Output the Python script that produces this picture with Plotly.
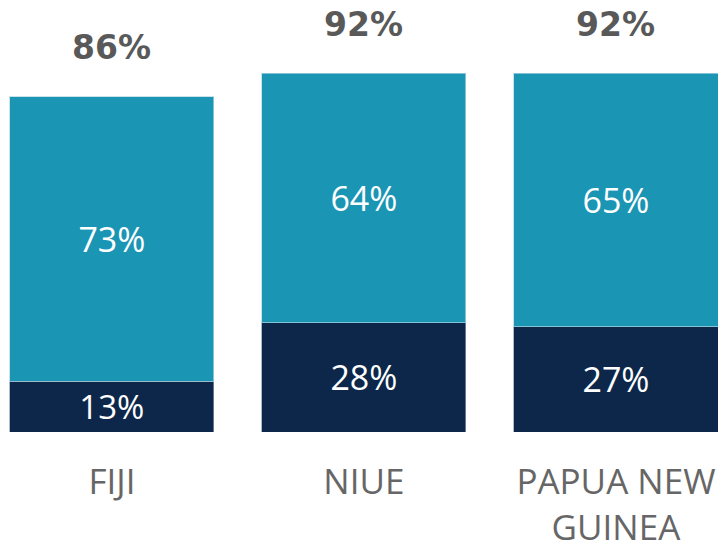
import plotly.graph_objects as go

categories = ["FIJI", "NIUE", "PAPUA NEW<br>GUINEA"]
bottom_vals = [13, 28, 27]
top_vals = [73, 64, 65]
total_labels = ["86%", "92%", "92%"]

NAVY = "#0c2749"
TEAL = "#1a95b4"

fig = go.Figure()
fig.add_trace(go.Bar(
    x=categories, y=bottom_vals, marker=dict(color=NAVY, line=dict(color="rgba(140,155,180,0.7)", width=1)),
    text=[f"{v}%" for v in bottom_vals], textposition="inside", insidetextanchor="middle",
    textfont=dict(color="white", size=34, family="Open Sans"), textangle=0, showlegend=False,
))
fig.add_trace(go.Bar(
    x=categories, y=top_vals, marker=dict(color=TEAL, line=dict(color="rgba(180,215,225,0.7)", width=1)),
    text=[f"{v}%" for v in top_vals], textposition="inside", insidetextanchor="middle",
    textfont=dict(color="white", size=34, family="Open Sans"), textangle=0, showlegend=False,
))

for c, b, t, lab in zip(categories, bottom_vals, top_vals, total_labels):
    fig.add_annotation(x=c, y=b + t, text=f"<b>{lab}</b>", showarrow=False,
                       yanchor="middle", yshift=49,
                       font=dict(size=33, color="#595959", family="DejaVu Sans"))

fig.update_layout(
    barmode="stack", bargap=0.19,
    width=718, height=544,
    margin=dict(l=0, r=0, t=0, b=112),
    paper_bgcolor="white", plot_bgcolor="white",
    xaxis=dict(range=[-0.444, 2.405], showgrid=False, zeroline=False, showline=False,
               automargin=False,
               ticks="outside", ticklen=0, tickcolor="white", ticklabelstandoff=19,
               tickfont=dict(size=35, color="#666666", family="Open Sans")),
    yaxis=dict(range=[0, 110.8], visible=False, automargin=False),
)
fig.write_html("out.html", config={"displayModeBar": False},
               post_script="document.body.style.margin='0';document.body.style.padding='0';")
